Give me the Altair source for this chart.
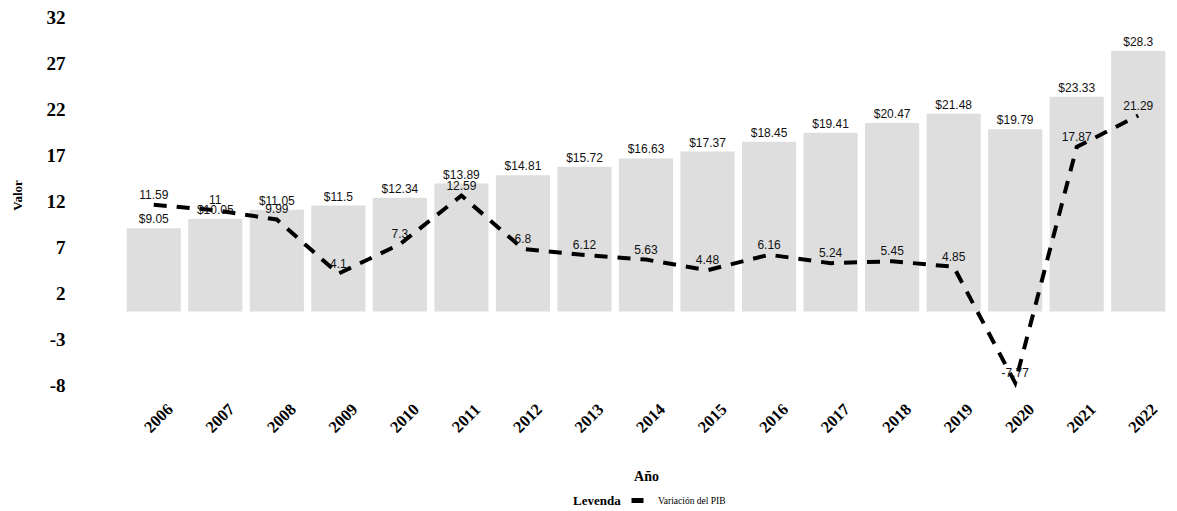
import altair as alt
import pandas as pd

anios = ["2006", "2007", "2008", "2009", "2010", "2011", "2012", "2013", "2014",
         "2015", "2016", "2017", "2018", "2019", "2020", "2021", "2022"]
pib = [9.05, 10.05, 11.05, 11.5, 12.34, 13.89, 14.81, 15.72, 16.63,
       17.37, 18.45, 19.41, 20.47, 21.48, 19.79, 23.33, 28.3]
variacion = [11.59, 11, 9.99, 4.1, 7.3, 12.59, 6.8, 6.12, 5.63,
             4.48, 6.16, 5.24, 5.45, 4.85, -7.77, 17.87, 21.29]
y_ticks = [-8, -3, 2, 7, 12, 17, 22, 27, 32]
serie = "Variación del PIB"

df = pd.DataFrame({"Año": anios, "PIB": pib, "Var": variacion, "Serie": serie})

serif = "Liberation Serif"
sans = "Liberation Sans"

x = alt.X("Año:N", sort=anios, title="Año",
          scale=alt.Scale(paddingInner=0.12, paddingOuter=0.06),
          axis=alt.Axis(labelAngle=315, labelAlign="center", labelBaseline="middle",
                        labelFont=serif, labelFontWeight="bold",
                        labelFontSize=16.5, labelColor="black", labelPadding=33,
                        labelOffset=5,
                        ticks=False, domain=False, titleFont=serif,
                        titleFontWeight="bold", titleFontSize=14, titleColor="black",
                        titlePadding=34))
yscale = alt.Scale(domain=[-8, 32], nice=False, zero=False)

base = alt.Chart(df)

bars = base.mark_bar(color="#dedede").encode(
    x=x,
    y=alt.Y("PIB:Q", scale=yscale, title="Valor",
            axis=alt.Axis(values=y_ticks, grid=False, ticks=False, domain=False,
                          labelExpr="'' + datum.value",
                          labelFont=serif, labelFontWeight="bold", labelFontSize=19,
                          labelColor="black", labelPadding=58, titleFont=serif,
                          titleFontWeight="bold", titleFontSize=13,
                          titleColor="black", titlePadding=22, titleY=178)),
)

bar_text = base.transform_calculate(lab="'$' + datum.PIB").mark_text(
    dy=-9, font=sans, fontSize=12, color="#111111"
).encode(x=alt.X("Año:N", sort=anios), y=alt.Y("PIB:Q", scale=yscale), text="lab:N")

line = base.mark_line(strokeDash=[13, 10], strokeWidth=4, color="black").encode(
    x=alt.X("Año:N", sort=anios),
    y=alt.Y("Var:Q", scale=yscale),
)

legend_layer = base.transform_filter("false").mark_line(strokeWidth=5).encode(
    x=alt.X("Año:N", sort=anios),
    y=alt.Y("Var:Q", scale=yscale),
    color=alt.Color("Serie:N", scale=alt.Scale(domain=[serie], range=["black"]),
                    legend=alt.Legend(title="Leyenda", orient="none", legendX=450,
                                      legendY=475, direction="horizontal",
                                      titleOrient="left", titlePadding=8,
                                      titleFont=serif,
                                      titleFontWeight="bold", titleFontSize=13,
                                      titleColor="black", labelFont=serif,
                                      labelFontSize=9.5, labelColor="black",
                                      labelOffset=12,
                                      symbolType="stroke", symbolStrokeWidth=5,
                                      symbolSize=144)),
)

line_text = base.transform_calculate(lab="'' + datum.Var").mark_text(
    dy=-10, font=sans, fontSize=12, color="#111111"
).encode(x=alt.X("Año:N", sort=anios), y=alt.Y("Var:Q", scale=yscale), text="lab:N")

chart = alt.layer(bars, line, legend_layer, bar_text, line_text).properties(
    width=1046, height=368,
    autosize=alt.AutoSizeParams(type="none"),
    padding={"left": 115, "top": 9, "right": 0, "bottom": 120},
    background="white",
).configure_view(strokeWidth=0)

chart.save("out.html", embed_options={"renderer": "svg", "actions": False})
